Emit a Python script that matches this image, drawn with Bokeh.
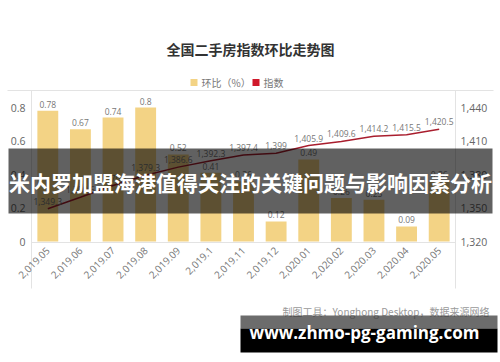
from math import pi
from bokeh.plotting import figure
from bokeh.models import (Range1d, LinearAxis, ColumnDataSource, Label, BoxAnnotation,
                          FixedTicker, NumeralTickFormatter)
from bokeh.core.properties import value
from bokeh.embed import file_html
from bokeh.resources import INLINE

# ---- data ----
months = ["2,019.05", "2,019.06", "2,019.07", "2,019.08", "2,019.09", "2,019.1",
          "2,019.11", "2,019.12", "2,020.01", "2,020.02", "2,020.03", "2,020.04", "2,020.05"]
mom = [0.78, 0.67, 0.74, 0.8, 0.52, 0.41, 0.36, 0.12, 0.49, 0.26, 0.25, 0.09, 0.36]
index_vals = [1349.3, 1359.6, 1370.1, 1379.3, 1386.6, 1392.3, 1397.4, 1399.0,
              1405.9, 1409.6, 1414.2, 1415.5, 1420.5]
left_ticks = [0, 0.2, 0.4, 0.6, 0.8]
right_ticks = [1320, 1350, 1380, 1410, 1440]

title_text = "全国二手房指数环比走势图"
legend_labels = ["环比（%）", "指数"]
banner_text = "米内罗加盟海港值得关注的关键问题与影响因素分析"
footer_text = "制图工具：Yonghong Desktop，数据来源网络"
watermark_text = "www.zhmo-pg-gaming.com"

BAR_COLOR = "#f3d385"
LINE_COLOR = "#a91e2e"
SWATCH_RED = "#d0192b"
CJK = "Noto Sans CJK SC"
NUM = "Open Sans"

W, H = 500, 362           # canvas == frame (all axes use fixed_location)


def fmt_idx(v):
    s = f"{v:,.1f}"
    return s[:-2] if s.endswith(".0") else s


xs = list(range(len(months)))
src = ColumnDataSource(dict(
    x=xs, mom=mom, idx=index_vals,
    mom_lbl=[str(v) for v in mom],
    idx_lbl=[fmt_idx(v) for v in index_vals],
))

# plot area inside the canvas (canvas px, y from top)
PL, PR, PT, PB = 31, 455, 90, 241
ppx = (PR - PL) / len(months)
x_start = -0.5 - PL / ppx
x_end = len(months) - 0.5 + (W - PR) / ppx
left_ppu = (PB - 107) / 0.8            # px per unit for bars
yl_start = -(H - PB) / left_ppu
yl_end = PB / left_ppu
right_ppu = (PB - 107) / 120.0
yr_start = 1320 - (H - PB) / right_ppu
yr_end = 1320 + PB / right_ppu

p = figure(x_range=Range1d(x_start, x_end), y_range=Range1d(yl_start, yl_end),
           width=W, height=H, output_backend="svg", toolbar_location=None,
           min_border=0, min_border_left=0, min_border_right=0,
           min_border_top=0, min_border_bottom=0)
p.title.visible = False
p.extra_y_ranges = {"idx": Range1d(yr_start, yr_end)}
p.xgrid.visible = False
p.ygrid.visible = False
p.outline_line_color = None
p.background_fill_color = "white"
p.border_fill_color = "white"


def style_axis(ax, size, color, standoff):
    ax.axis_line_color = None
    ax.major_tick_line_color = None
    ax.minor_tick_line_color = None
    ax.major_tick_out = 0
    ax.major_tick_in = 0
    ax.major_label_text_color = color
    ax.major_label_text_font_size = size
    ax.major_label_text_font = NUM
    ax.major_label_standoff = standoff


# left axis
ly = p.yaxis[0]
ly.ticker = FixedTicker(ticks=left_ticks)
ly.fixed_location = -0.5
style_axis(ly, "10.5px", "#666666", 6)

# right axis
ry = LinearAxis(y_range_name="idx", ticker=FixedTicker(ticks=right_ticks),
                formatter=NumeralTickFormatter(format="0,0"), fixed_location=len(months) - 0.5)
style_axis(ry, "10.5px", "#666666", 5)
p.add_layout(ry, "right")

# x axis
xa = p.xaxis[0]
xa.ticker = FixedTicker(ticks=xs)
xa.major_label_overrides = {i: m for i, m in enumerate(months)}
xa.fixed_location = 0
xa.major_label_orientation = pi / 4
style_axis(xa, "10px", "#777777", 7)


def sbox(l, r, b, t, color, alpha=1.0, level="underlay"):
    """box in canvas px (x from left, y from top)"""
    p.add_layout(BoxAnnotation(left=l, right=r, bottom=H - b, top=H - t,
                               left_units="screen", right_units="screen",
                               bottom_units="screen", top_units="screen",
                               fill_color=color, fill_alpha=alpha, line_color=None,
                               level=level))


def obox(l, r, b, t, color, alpha=1.0):
    sbox(l, r, b, t, color, alpha, level="annotation")


def lab(x, y, text, **kw):
    p.add_layout(Label(x=x, y=H - y, x_units="screen", y_units="screen", text=text, **kw))


# chart frame lines
sbox(7, 493, PT + 0.5, PT - 0.5, "#e3e3e3")
sbox(PL - 0.5, PL + 0.5, 288, PT, "#e3e3e3")
sbox(PR - 0.5, PR + 0.5, 288, PT, "#e3e3e3")
sbox(PL, PR, PB + 1.5, PB + 0.5, "#e3e3e3")

# glyphs
p.vbar(x="x", top="mom", width=0.64, source=src, fill_color=BAR_COLOR, line_color=None)
p.line(x="x", y="idx", source=src, y_range_name="idx", line_color=LINE_COLOR, line_width=1.5)
p.text(x="x", y="mom", text="mom_lbl", source=src, text_align="center", text_baseline="bottom",
       y_offset=-3, text_font_size="8.5px", text_color="#777777", text_font=value(NUM))
p.text(x="x", y="idx", text="idx_lbl", source=src, y_range_name="idx", text_align="center",
       text_baseline="bottom", y_offset=-4, text_font_size="8.5px", text_color="#777777",
       text_font=value(NUM))

# title
lab(250, 48, title_text, text_align="center", text_baseline="middle", text_font_size="14px",
    text_font_style="bold", text_color="#333333", text_font=CJK)

# legend (drawn by hand above the plot area)
obox(190, 197, 85.5, 78.5, BAR_COLOR)
lab(201, 82, legend_labels[0], text_align="left", text_baseline="middle",
    text_font_size="10px", text_color="#777777", text_font=CJK)
obox(252, 259, 85.5, 78.5, SWATCH_RED)
lab(263, 82, legend_labels[1], text_align="left", text_baseline="middle",
    text_font_size="10px", text_color="#777777", text_font=CJK)

# footer
lab(489, 311, footer_text, text_align="right", text_baseline="middle", text_font_size="10px",
    text_color="#9a9a9a", text_font=CJK)

# banner overlay
obox(8, 492, 213, 148, "black", 0.62)
lab(250, 181, banner_text, text_align="center", text_baseline="middle", text_font_size="21px",
    text_font_style="bold", text_color="white", text_font=CJK)

# watermark overlay
obox(240, 497, 328, 315, "#333333", 0.72)
obox(240, 497, 352, 328, "black", 1.0)
lab(364, 332, watermark_text, text_align="center", text_baseline="middle", text_font_size="17px",
    text_font_style="bold", text_color="white", text_font=NUM)

open("out.html", "w").write(file_html(p, INLINE))
